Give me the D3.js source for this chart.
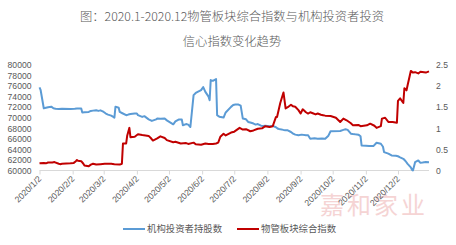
<!DOCTYPE html>
<html><head><meta charset="utf-8">
<script src="https://cdn.jsdelivr.net/npm/d3@7/dist/d3.min.js"></script>
<style>
body{margin:0;background:#fff;}
svg{display:block;font-family:"Noto Sans CJK SC","Noto Sans",sans-serif;}
</style></head><body>
<svg id="c" width="456" height="245"></svg>
<script>
const titleLines = ["图：2020.1-2020.12物管板块综合指数与机构投资者投资", "信心指数变化趋势"];
const seriesNames = ["机构投资者持股数", "物管板块综合指数"];
const leftTicks = [60000,62000,64000,66000,68000,70000,72000,74000,76000,78000,80000];
const rightTicks = [0,0.5,1,1.5,2,2.5];
const tickDates = ["2020-01-02","2020-02-02","2020-03-02","2020-04-02","2020-05-02","2020-06-02","2020-07-02","2020-08-02","2020-09-02","2020-10-02","2020-11-02","2020-12-02"];
const watermark = "嘉和家业";

const blueDates = ["01-02","01-03","01-06","01-08","01-10","01-13","01-15","01-17","01-20","01-23","01-31","02-04","02-06","02-10","02-11","02-13","02-17","02-19","02-21","02-24","02-26","02-28","03-02","03-04","03-06","03-09","03-11","03-12","03-13","03-16","03-17","03-19","03-23","03-25","03-27","03-31","04-02","04-03","04-07","04-09","04-13","04-16","04-20","04-21","04-24","04-28","04-30","05-06","05-08","05-11","05-14","05-15","05-18","05-20","05-22","05-25","05-27","06-01","06-03","06-05","06-08","06-09","06-10","06-12","06-15","06-16","06-18","06-22","06-24","06-29","07-01","07-03","07-06","07-08","07-10","07-13","07-15","07-17","07-20","07-22","07-24","07-27","07-29","07-31","08-04","08-07","08-10","08-12","08-14","08-17","08-19","08-21","08-24","08-26","08-28","08-31","09-03","09-07","09-09","09-11","09-15","09-18","09-22","09-25","09-28","09-30","10-09","10-12","10-14","10-16","10-19","10-21","10-23","10-26","10-28","10-29","11-02","11-05","11-09","11-12","11-16","11-18","11-19","11-23","11-26","11-30","12-02","12-04","12-07","12-09","12-11","12-14","12-15","12-16","12-18","12-21","12-23","12-25","12-28","12-31"];
const blueValues = [75750,75300,71800,71900,72000,72100,71800,71700,71650,71700,71650,71700,71750,71750,71000,71050,71100,71300,71350,71430,71300,71400,71100,70800,70600,70400,70160,70000,72100,71900,71100,70900,70480,70600,70700,70800,70800,70500,70160,70300,69700,69400,69700,69840,69800,69840,69500,68760,69300,69650,69650,68570,68800,68700,68250,74290,74700,75240,75800,74900,74000,73330,77140,77000,77330,70480,70200,70030,71000,72060,72400,72500,72500,72300,69840,69700,69200,69100,68900,68700,68800,68500,68440,68500,68400,68450,68200,67900,67800,67700,67650,67620,67300,67000,66800,66670,66800,66700,66670,66030,66100,66000,66050,66030,66600,67430,67500,67700,67810,67700,66980,66900,66850,66800,66500,64760,64700,64650,64630,65270,65080,64500,63490,63200,62860,62800,62700,62500,62220,61800,61270,60600,60150,60000,61580,61900,61450,61500,61600,61550];

const redDates = ["01-02","01-06","01-08","01-10","01-14","01-16","01-20","01-22","01-23","01-31","02-03","02-05","02-06","02-07","02-10","02-12","02-13","02-17","02-19","02-21","02-24","02-28","03-03","03-09","03-12","03-17","03-19","03-20","03-23","03-24","03-26","03-27","03-31","04-03","04-07","04-13","04-15","04-17","04-21","04-24","04-28","04-30","05-06","05-08","05-13","05-18","05-20","05-25","05-27","06-01","06-05","06-08","06-12","06-15","06-17","06-19","06-22","06-24","06-29","07-02","07-07","07-10","07-13","07-17","07-20","07-24","07-28","07-31","08-04","08-07","08-10","08-11","08-14","08-17","08-19","08-21","08-24","08-26","08-28","08-31","09-02","09-04","09-07","09-09","09-11","09-14","09-16","09-18","09-21","09-23","09-25","09-30","10-05","10-09","10-12","10-15","10-19","10-21","10-26","10-28","11-03","11-06","11-10","11-12","11-16","11-17","11-20","11-23","11-27","12-01","12-02","12-04","12-07","12-08","12-10","12-11","12-14","12-16","12-18","12-21","12-23","12-28","12-31"];
const redValues = [0.17,0.18,0.17,0.19,0.19,0.2,0.16,0.15,0.16,0.17,0.18,0.22,0.25,0.23,0.22,0.16,0.12,0.1,0.14,0.16,0.14,0.15,0.16,0.16,0.15,0.14,0.16,0.64,0.64,0.83,1.01,0.79,0.80,0.86,0.84,0.82,0.77,0.71,0.76,0.81,0.77,0.72,0.67,0.68,0.64,0.65,0.63,0.66,0.62,0.61,0.64,0.63,0.63,0.64,0.66,0.8,0.87,0.83,0.9,0.92,1.01,0.97,0.98,0.93,0.95,0.99,1.0,1.05,1.03,1.05,1.27,1.27,1.6,1.85,1.47,1.5,1.56,1.52,1.51,1.43,1.35,1.45,1.38,1.35,1.38,1.35,1.33,1.35,1.32,1.31,1.30,1.29,1.25,1.15,1.23,1.19,1.12,1.07,1.08,1.05,1.07,1.11,1.06,1.01,1.05,1.23,1.25,1.15,1.15,1.13,1.65,1.71,1.60,1.95,1.9,2.02,2.36,2.32,2.33,2.3,2.34,2.32,2.35];

const parse = d3.timeParse("%Y-%m-%d");
const blue = blueDates.map((d,i)=>({date:parse("2020-"+d), v:blueValues[i]}));
const red = redDates.map((d,i)=>({date:parse("2020-"+d), v:redValues[i]}));

const svg = d3.select("#c");
const plotTop = 65, plotBottom = 170.5, plotLeft = 39.5, plotRight = 429;
const x = d3.scaleTime().domain([parse("2020-01-02"), parse("2020-12-31")]).range([plotLeft, plotRight]);
const yL = d3.scaleLinear().domain([60000,80000]).range([plotBottom, plotTop]);
const yR = d3.scaleLinear().domain([0,2.5]).range([plotBottom, plotTop]);

// title
svg.append("g").selectAll("text").data(titleLines).join("text")
  .attr("x", 232).attr("y", (d,i)=>21 + i*25)
  .attr("text-anchor","middle").attr("fill","#595959")
  .attr("font-size", 12.3).attr("font-weight", 300)
  .text(d=>d);

// watermark
svg.append("text").attr("x", 374).attr("y", 214).attr("text-anchor","middle")
  .attr("fill","#f0b8b8").attr("opacity",0.6).attr("font-size",24).attr("letter-spacing",3)
  .text(watermark);

// left axis
const gl = svg.append("g").attr("transform",`translate(${plotLeft},0)`)
  .call(d3.axisLeft(yL).tickValues(leftTicks).tickSize(0).tickPadding(8).tickFormat(d3.format("d")));
gl.select(".domain").remove();
gl.selectAll("text").attr("fill","#595959").attr("font-size",8.6).attr("font-family","Liberation Sans, Arial, sans-serif");

// right axis
const gr = svg.append("g").attr("transform",`translate(${plotRight},0)`)
  .call(d3.axisRight(yR).tickValues(rightTicks).tickSize(0).tickPadding(7).tickFormat(d=>String(d)));
gr.select(".domain").remove();
gr.selectAll("text").attr("fill","#595959").attr("font-size",8.6).attr("font-family","Liberation Sans, Arial, sans-serif");

// x axis
const gx = svg.append("g").attr("transform",`translate(0,${plotBottom})`)
  .call(d3.axisBottom(x).tickValues(tickDates.map(parse)).tickSize(4).tickSizeOuter(0)
    .tickFormat(d3.timeFormat("%Y/%-m/%-d")));
gx.select(".domain").attr("stroke","#d9d9d9").attr("d",`M${plotLeft},0H${plotRight}`);
gx.selectAll(".tick line").attr("stroke","#d9d9d9");
gx.selectAll("text").attr("fill","#595959").attr("font-size",8.6).attr("font-family","Liberation Sans, Arial, sans-serif")
  .attr("text-anchor","end").attr("transform","translate(-3,4) rotate(-45)").attr("dy","0.35em").attr("y",4);

// lines
const lineL = d3.line().x(d=>x(d.date)).y(d=>yL(d.v));
const lineR = d3.line().x(d=>x(d.date)).y(d=>yR(d.v));
svg.append("path").datum(blue).attr("d",lineL).attr("fill","none").attr("stroke","#5b9bd5").attr("stroke-width",2).attr("stroke-linejoin","round");
svg.append("path").datum(red).attr("d",lineR).attr("fill","none").attr("stroke","#c00000").attr("stroke-width",2).attr("stroke-linejoin","round");

// legend
const legend = [{name:seriesNames[0], color:"#5b9bd5", x:123},{name:seriesNames[1], color:"#c00000", x:237}];
const lg = svg.append("g").selectAll("g").data(legend).join("g").attr("transform",d=>`translate(${d.x},229)`);
lg.append("line").attr("x1",0).attr("x2",22).attr("stroke",d=>d.color).attr("stroke-width",2);
lg.append("text").attr("x",24).attr("dy","0.35em").attr("fill","#595959").attr("font-size",9.4).text(d=>d.name);
</script></body></html>
